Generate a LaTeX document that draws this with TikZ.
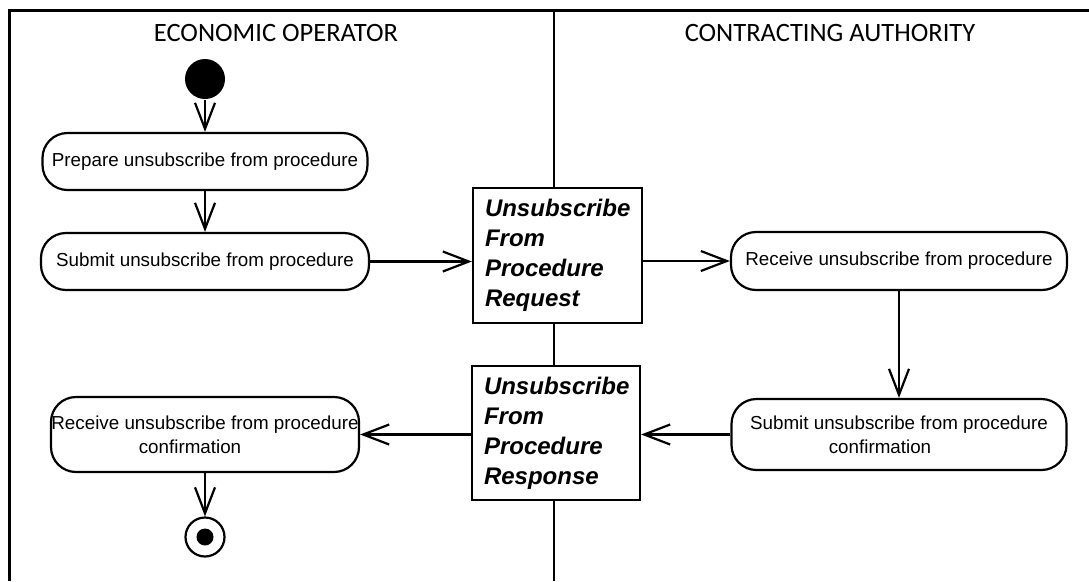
\documentclass[tikz,border=0pt]{standalone}
\usepackage{fontspec}
\setmainfont{Liberation Sans}
\newfontfamily\lanefont{Carlito}
\usetikzlibrary{arrows.meta}

\begin{document}
\begin{tikzpicture}[x=1pt, y=-1pt, line width=2.2pt,
	lane/.style = {font=\lanefont\fontsize{26.5}{30}\selectfont},
	act/.style = {draw, rounded corners=25pt, inner sep=0pt, align=center, font=\fontsize{18.8}{24}\selectfont},
	obj/.style = {draw, fill=white, inner xsep=12pt, align=left, font=\fontsize{24}{30}\selectfont\bfseries\itshape},
	flow/.style = {-{Straight Barb[length=26pt, width=20pt]}}]
	\useasboundingbox (0,0) rectangle (1089,581);
	% swimlanes
	\draw[line width=3pt] (9,581) -- (9,10) -- (1089,10);
	\draw (554,10) -- (554,581);
	\node[lane] (eo) at (276,33) {ECONOMIC OPERATOR};
	\node[lane] (ca) at (830,33) {CONTRACTING AUTHORITY};
	% economic operator
	\node[circle, fill, minimum size=40pt, inner sep=0pt] (start) at (205,79) {};
	\node[act, minimum width=325pt, minimum height=57pt] (prep) at (205,161.5) {Prepare unsubscribe from procedure};
	\node[act, minimum width=328pt, minimum height=57pt] (sub) at (205,261.5) {Submit unsubscribe from procedure};
	\node[act, minimum width=308pt, minimum height=75pt] (recc) at (205,434.5) {Receive unsubscribe from procedure\\\hspace*{-30pt}confirmation};
	\node[circle, draw, minimum size=39pt, inner sep=0pt] (end) at (205,537) {};
	\node[circle, fill, minimum size=17pt, inner sep=0pt] (enddot) at (end) {};
	% messages
	\node[obj, text width=145pt, minimum height=135pt] (req) at (557.5,255.5) {Unsubscribe\\From\\Procedure\\Request};
	\node[obj, text width=144pt, minimum height=134pt] (resp) at (556,433) {Unsubscribe\\From\\Procedure\\Response};
	% contracting authority
	\node[act, minimum width=336pt, minimum height=58pt] (rec) at (899,261) {Receive unsubscribe from procedure};
	\node[act, minimum width=335pt, minimum height=71pt] (subc) at (899,434.5) {Submit unsubscribe from procedure\\\hspace*{-38pt}confirmation};
	% flows
	\draw[flow] (start) -- (prep);
	\draw[flow] (prep) -- (sub);
	\draw[flow] (sub.east) -- (sub.east -| req.west);
	\draw[flow] (req.east |- rec.west) -- (rec.west);
	\draw[flow] (rec) -- (subc);
	\draw[flow] (subc.west) -- (subc.west -| resp.east);
	\draw[flow] (resp.west |- recc.east) -- (recc.east);
	\draw[flow] (recc) -- (end);
\end{tikzpicture}
\end{document}
